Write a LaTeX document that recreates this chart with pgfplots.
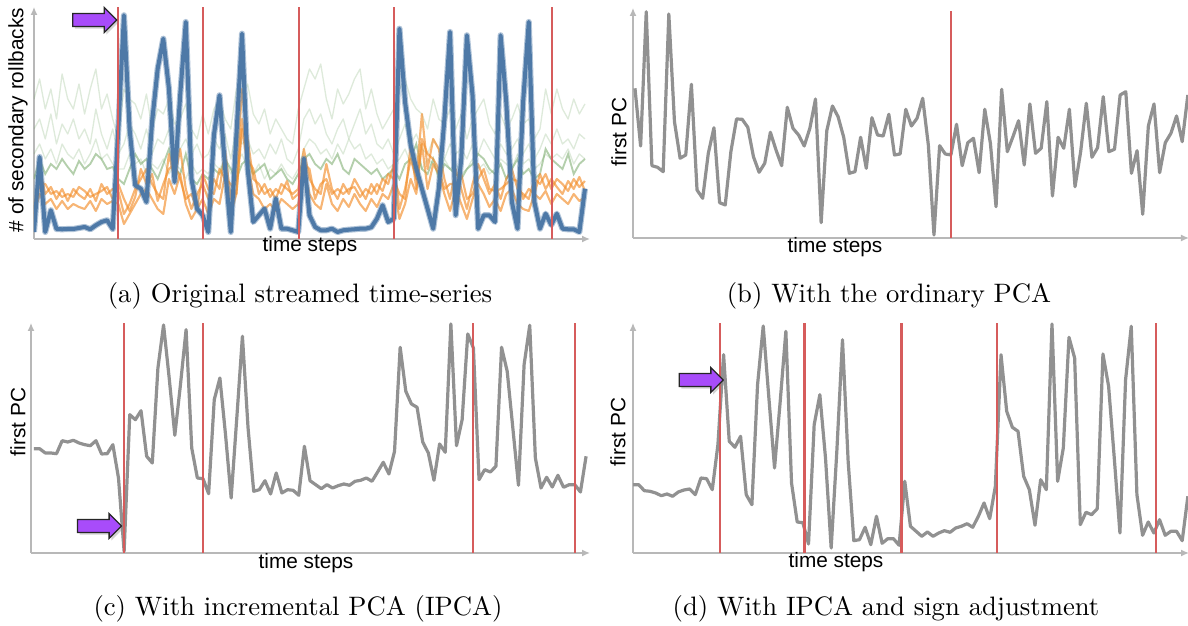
\documentclass[border=0pt]{standalone}
\usepackage{fontspec}
\newfontfamily\hel{Liberation Sans}
\usepackage{pgfplots}
\pgfplotsset{compat=1.18}
\usepackage{pgfplotstable}
\usetikzlibrary{arrows.meta,shapes.arrows,shadows}

\definecolor{pcgray}{RGB}{145,145,145}
\definecolor{cpred}{RGB}{214,92,92}
\definecolor{tblue}{RGB}{78,121,167}
\definecolor{torange}{RGB}{242,142,43}
\definecolor{tgreen}{RGB}{106,160,90}
\definecolor{apurple}{RGB}{168,76,250}

% panel (a): mean of each cluster and a few members
\pgfplotstableread{
t blue or1 or2 or3 g1 g2 g3 g4
0 7 30 20 25 140 110 85 60
1 82 70 55 45 160 120 95 80
2 7 45 55 35 130 100 80 65
3 28.7 52 45 40 150 125 90 75
4 10 40 48 30 120 95 75 70
5 9.7 50 42 38 165 115 95 80
6 10 38 45 30 140 105 85 72
7 10 50 42 35 130 120 80 65
8 11 44 52 32 155 100 90 78
9 12 40 48 30 125 110 75 70
10 9.7 50 42 38 150 95 85 75
11 13.7 38 45 28 170 130 100 85
12 17 55 48 40 130 105 80 80
13 18.7 45 52 35 145 90 85 70
14 10 50 40 38 120 110 75 72
15 110 48 55 35 100 85 70 60
16 223.7 25 40 15 150 95 70 55
17 110 35 28 25 140 115 85 70
18 53.7 50 42 35 135 105 75 85
19 50.3 60 70 45 120 90 80 75
20 37 70 55 50 145 110 65 80
21 117 55 65 40 110 85 75 70
22 170.3 45 38 30 130 100 70 60
23 200.3 40 55 25 125 95 80 75
24 150.3 85 70 60 140 110 65 90
25 57 60 75 45 115 80 75 70
26 143.7 90 60 65 120 90 70 65
27 217 50 40 35 135 100 60 85
28 60.3 30 45 20 110 85 75 60
29 30.3 45 30 30 100 95 65 55
30 23.7 55 65 40 125 80 70 65
31 7 40 50 25 105 85 65 60
32 103.7 60 45 40 130 100 75 70
33 143.7 50 70 35 140 90 70 65
34 70.3 88 60 65 120 105 80 80
35 7 40 55 25 110 80 65 70
36 103.7 60 45 45 150 110 75 60
37 205.3 150 120 110 145 95 85 75
38 70.3 100 80 75 155 100 70 80
39 17 60 70 45 125 85 65 65
40 23.7 55 45 40 115 90 75 70
41 30.3 45 55 30 130 80 60 75
42 10.3 50 42 35 105 95 70 60
43 40.3 40 50 28 120 85 65 65
44 10.3 55 45 40 110 100 75 70
45 10.3 50 58 35 100 80 65 60
46 8.7 45 40 30 95 75 60 55
47 7 50 45 35 130 90 70 65
48 80.3 90 75 70 150 120 90 80
49 23.7 60 70 45 170 130 100 85
50 12 50 40 35 160 115 95 75
51 8.7 45 55 30 175 125 85 70
52 8.7 75 60 55 140 105 90 80
53 10.3 50 45 35 120 95 80 75
54 7 40 50 28 150 110 95 85
55 8.7 55 45 40 135 120 85 70
56 9.3 45 50 32 145 100 100 65
57 9.7 60 52 45 160 115 90 80
58 10.3 50 42 35 170 130 95 75
59 10.3 40 50 28 130 105 80 70
60 11.7 55 45 40 150 115 85 65
61 20.3 45 55 32 125 95 75 70
62 33.7 60 48 45 110 90 80 60
63 17 55 65 40 120 100 70 65
64 20.3 75 60 55 130 85 75 70
65 210.3 30 45 20 150 100 80 60
66 137 50 40 35 160 115 90 75
67 93.7 80 95 60 140 95 75 80
68 70.3 60 50 45 130 105 85 95
69 50.3 125 100 95 125 90 70 70
70 30.3 70 85 50 110 85 80 65
71 10.3 100 80 75 140 100 75 80
72 50.3 90 70 65 120 90 65 60
73 120.3 60 50 45 115 80 80 75
74 207 40 55 28 130 95 70 70
75 23.7 70 55 50 110 85 75 65
76 80.3 50 65 35 125 90 65 60
77 203.7 30 40 20 100 80 70 70
78 143.7 55 45 40 120 95 80 75
79 10.3 75 60 55 130 85 70 85
80 23.7 60 70 45 140 100 75 80
81 23.7 45 50 32 115 90 65 70
82 17 55 48 40 105 80 70 65
83 203.7 40 50 28 125 95 80 75
84 137 60 55 45 110 85 75 60
85 37 70 60 50 120 90 70 70
86 10.3 50 58 35 135 100 85 80
87 137 45 40 30 115 85 75 65
88 217 40 50 28 120 95 80 70
89 37 60 45 45 100 80 70 60
90 10.3 55 65 40 110 90 75 65
91 25.3 65 50 48 150 105 85 90
92 14 50 60 35 125 95 80 80
93 25.3 60 52 45 150 110 85 75
94 10.3 55 45 40 130 95 80 70
95 9.7 48 58 35 120 100 90 85
96 9.7 60 50 45 140 90 75 65
97 7 52 62 38 125 105 85 75
98 50.3 58 48 42 135 100 80 80
}\tabA

% first principal component: (b) PCA, (c) IPCA, (d) IPCA + sign adjustment
\pgfplotstableread{
t b c d
0 149.7 104.3 68.3
1 92 104.3 68.3
2 226.3 100 62.3
3 72.3 100 61.7
4 70.7 99.3 60
5 66.3 112.3 57.3
6 224 111 59
7 116.3 112.7 56.7
8 79.7 110 61
9 83 108.3 63
10 153.7 107.3 64
11 48 112.3 58.3
12 39.7 99 75
13 84.7 99.3 74.3
14 110.3 108.3 63.3
15 35.3 75 108.3
16 33 1.7 198.3
17 86.3 138.3 111.7
18 119 133.3 105.7
19 118.7 142.3 116.7
20 110.7 96.7 58.3
21 81.3 90 48.3
22 65.7 185 168.3
23 74.7 228 227
24 105.7 175 155
25 88 117.7 85
26 72.3 168.3 151.7
27 130.7 223.3 221.7
28 109.7 105 70
29 103 75 31
30 92 74.3 30.3
31 109.7 59.3 9
32 139 153.3 128.3
33 15.3 175 158.3
34 107.3 118.3 95
35 132 55 5
36 121.3 135 101.7
37 100.7 216.7 213.3
38 64.7 125 91.7
39 66.3 61.7 12.3
40 100.7 63.3 13.3
41 69.7 72.3 25.7
42 120.3 59 8.3
43 103 80 36.7
44 102 60 9.7
45 123.7 63.3 14.3
46 83 62.7 14.3
47 84 57.7 7.7
48 128.7 106.7 71.7
49 112 72.3 26.7
50 119.7 68.3 21.7
51 139.7 64.3 16.7
52 93 68.3 21
53 3 65 16.7
54 92.3 67.3 20
55 84 69 22.3
56 83 67.7 20.7
57 113.7 71.7 25
58 72.3 72.7 26.7
59 95.3 75 29.3
60 99.7 71.7 25.7
61 65.3 81 36.7
62 128.7 90.7 50
63 94.7 79 34.3
64 31.3 101.7 66.7
65 148.7 205.7 198.3
66 86.3 161.7 141.7
67 101.3 149 125.7
68 117.3 145.7 121.7
69 73 111 76.7
70 134 100 63.3
71 84.7 72.7 27.7
72 89.7 109 73.3
73 136.3 100.7 63.3
74 42 229 229
75 100.7 107.3 71.7
76 89.7 133.3 105
77 128.7 219 215.7
78 51.3 205 195
79 86.3 73.3 28.3
80 134.7 83.3 40.7
81 80.7 81 38.3
82 90.3 86.7 44.3
83 141.3 205.7 199
84 86.3 181.7 166.7
85 88.7 125 95
86 143 67.7 20
87 146.3 188.3 173.3
88 64.7 227.7 226.7
89 87.3 95 58.3
90 23.7 65 17.7
91 112 75.7 31
92 134 66 20
93 65.3 77.7 33.3
94 95.3 65.7 17.7
95 104.7 68.3 21.7
96 122 68.3 21.7
97 96.3 61 12.3
98 143 96.7 56.7
}\tabPC

\pgfplotsset{
  panel/.style={scale only axis, axis lines=left, xtick=\empty, ytick=\empty,
    axis line style={draw=black!28, line width=0.5pt, -{Latex[length=3pt,width=2.6pt]}},
    ymin=0, anchor=south west},
  pc/.style={pcgray, line width=1.2pt, line join=round},
  cp/.style={cpred, line width=0.85pt},
  gr/.style={tgreen, line width=0.5pt, opacity=0.22, line join=round},
  orl/.style={torange, line width=0.8pt, opacity=0.65, line join=round},
}
\tikzset{
  parrow/.style={single arrow, fill=apurple, draw=black!85, line width=0.5pt,
    minimum height=16.5pt, inner sep=2.2pt, single arrow head extend=2.2pt,
    drop shadow={opacity=0.35, shadow xshift=0.8pt, shadow yshift=-0.8pt}},
  lab/.style={font=\hel\fontsize{7.8}{9}\selectfont},
}

\begin{document}
\begin{tikzpicture}
\path[use as bounding box] (0,0) rectangle (445.5pt,234.75pt);

% (a)
\begin{axis}[panel, at={(12.75pt,145.125pt)}, width=208.5pt, height=87pt,
  xmin=0, xmax=98.9, ymax=232]
  \addplot[gr] table[x=t,y=g1] {\tabA};
  \addplot[gr] table[x=t,y=g2] {\tabA};
  \addplot[gr] table[x=t,y=g3] {\tabA};
  \addplot[tgreen, line width=0.7pt, opacity=0.5] table[x=t,y=g4] {\tabA};
  \addplot[orl] table[x=t,y=or1] {\tabA};
  \addplot[orl] table[x=t,y=or2] {\tabA};
  \addplot[orl] table[x=t,y=or3] {\tabA};
  \addplot[tblue, line width=2.3pt, opacity=0.45, line join=round] table[x=t,y=blue] {\tabA};
  \addplot[tblue, line width=1.5pt, line join=round] table[x=t,y=blue] {\tabA};
  \addplot[cp] coordinates {(15,0) (15,232)};
  \addplot[cp] coordinates {(30,0) (30,232)};
  \addplot[cp] coordinates {(47.1,0) (47.1,232)};
  \addplot[cp] coordinates {(64,0) (64,232)};
  \addplot[cp] coordinates {(92.2,0) (92.2,232)};
\end{axis}

% (b)
\begin{axis}[panel, at={(237.375pt,145.5pt)}, width=208.5pt, height=86.25pt,
  xmin=-0.35, xmax=98.2, ymax=230]
  \addplot[pc] table[x=t,y=b] {\tabPC};
  \addplot[cp] coordinates {(56,0) (56,227)};
\end{axis}

% (c)
\begin{axis}[panel, at={(11.625pt,27.375pt)}, width=209.625pt, height=86.25pt,
  xmin=-0.53, xmax=98.7, ymax=230]
  \addplot[pc] table[x=t,y=c] {\tabPC};
  \addplot[cp] coordinates {(16,0) (16,230)};
  \addplot[cp] coordinates {(30,0) (30,230)};
  \addplot[cp] coordinates {(77.9,0) (77.9,230)};
  \addplot[cp] coordinates {(96,0) (96,230)};
\end{axis}

% (d)
\begin{axis}[panel, at={(237.375pt,27.375pt)}, width=208.5pt, height=86.25pt,
  xmin=0, xmax=98.2, ymax=230]
  \addplot[pc] table[x=t,y=d] {\tabPC};
  \addplot[cp] coordinates {(15.4,0) (15.4,230)};
  \addplot[cp] coordinates {(30.3,0) (30.3,230)};
  \addplot[cp] coordinates {(47.4,0) (47.4,230)};
  \addplot[cp] coordinates {(64.3,0) (64.3,230)};
  \addplot[cp] coordinates {(92.4,0) (92.4,230)};
\end{axis}

% axis labels
\node[lab] at (116.25pt,142.5pt) {time steps};
\node[lab] at (313.125pt,142.125pt) {time steps};
\node[lab] at (114.75pt,23.625pt) {time steps};
\node[lab] at (313.5pt,24pt) {time steps};
\node[lab, rotate=90] at (6.75pt,189.75pt) {\# of secondary rollbacks};
\node[lab, rotate=90] at (232.125pt,185.25pt) {first PC};
\node[lab, rotate=90] at (6.75pt,76.5pt) {first PC};
\node[lab, rotate=90] at (231.75pt,72.75pt) {first PC};

% captions
\node at (112.5pt,123.75pt) {(a) Original streamed time-series};
\node at (333.375pt,123.75pt) {(b) With the ordinary PCA};
\node at (111.75pt,6.375pt) {(c) With incremental PCA (IPCA)};
\node at (332.25pt,6.375pt) {(d) With IPCA and sign adjustment};

% markers of the first drift
\node[parrow] at (34.3pt,227.25pt) {};
\node[parrow] at (36.1pt,37.5pt) {};
\node[parrow] at (261.75pt,92.25pt) {};
\end{tikzpicture}
\end{document}
